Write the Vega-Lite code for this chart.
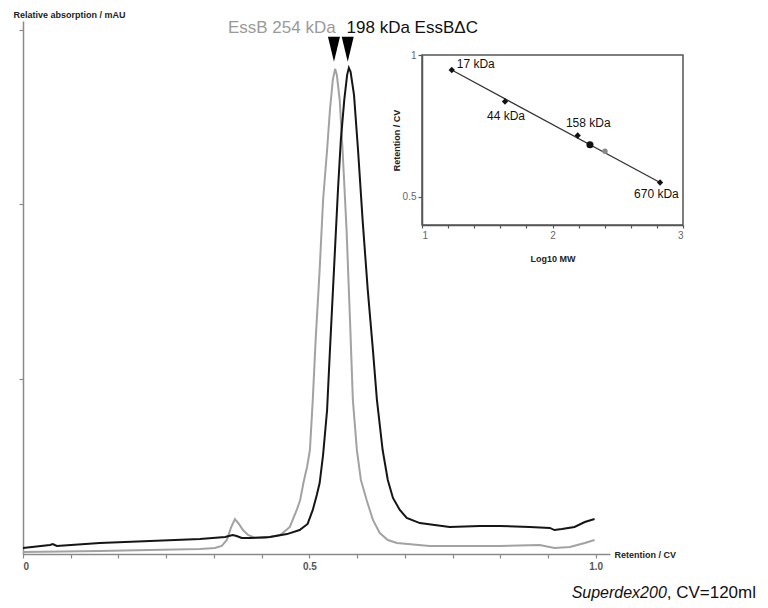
{
  "$schema": "https://vega.github.io/schema/vega-lite/v6.json",
  "width": 587,
  "height": 533,
  "autosize": "none",
  "padding": {"left": 23, "top": 21, "right": 158, "bottom": 54},
  "background": "white",
  "config": {
    "view": {"stroke": null},
    "font": "Liberation Sans",
    "axis": {"grid": false, "domainColor": "#8a8a8a", "tickColor": "#8a8a8a", "domainWidth": 1.5, "tickWidth": 1.2, "labelFont": "Liberation Sans", "titleFont": "Liberation Sans"}
  },
  "datasets": {
    "essb": [
      {"cv": 0.0, "abs": 0.011}, {"cv": 0.134, "abs": 0.017}, {"cv": 0.309, "abs": 0.029},
      {"cv": 0.335, "abs": 0.034}, {"cv": 0.347, "abs": 0.046}, {"cv": 0.356, "abs": 0.080},
      {"cv": 0.363, "abs": 0.149}, {"cv": 0.370, "abs": 0.200}, {"cv": 0.377, "abs": 0.172},
      {"cv": 0.384, "abs": 0.137}, {"cv": 0.393, "abs": 0.109}, {"cv": 0.405, "abs": 0.092},
      {"cv": 0.422, "abs": 0.092}, {"cv": 0.449, "abs": 0.109}, {"cv": 0.466, "abs": 0.155},
      {"cv": 0.478, "abs": 0.252}, {"cv": 0.484, "abs": 0.309}, {"cv": 0.490, "abs": 0.412},
      {"cv": 0.496, "abs": 0.498}, {"cv": 0.501, "abs": 0.595}, {"cv": 0.506, "abs": 0.882},
      {"cv": 0.511, "abs": 1.225}, {"cv": 0.518, "abs": 1.626}, {"cv": 0.524, "abs": 2.026},
      {"cv": 0.531, "abs": 2.313}, {"cv": 0.536, "abs": 2.542}, {"cv": 0.541, "abs": 2.713},
      {"cv": 0.545, "abs": 2.776}, {"cv": 0.548, "abs": 2.742}, {"cv": 0.553, "abs": 2.599},
      {"cv": 0.558, "abs": 2.313}, {"cv": 0.565, "abs": 1.855}, {"cv": 0.571, "abs": 1.339},
      {"cv": 0.576, "abs": 0.882}, {"cv": 0.583, "abs": 0.595}, {"cv": 0.590, "abs": 0.424},
      {"cv": 0.600, "abs": 0.309}, {"cv": 0.611, "abs": 0.195}, {"cv": 0.623, "abs": 0.120},
      {"cv": 0.637, "abs": 0.080}, {"cv": 0.653, "abs": 0.063}, {"cv": 0.710, "abs": 0.046},
      {"cv": 0.832, "abs": 0.046}, {"cv": 0.902, "abs": 0.052}, {"cv": 0.928, "abs": 0.034},
      {"cv": 0.955, "abs": 0.040}, {"cv": 0.981, "abs": 0.063}, {"cv": 0.998, "abs": 0.080}
    ],
    "essbdc": [
      {"cv": 0.0, "abs": 0.034}, {"cv": 0.047, "abs": 0.052}, {"cv": 0.052, "abs": 0.057},
      {"cv": 0.059, "abs": 0.046}, {"cv": 0.134, "abs": 0.063}, {"cv": 0.222, "abs": 0.074},
      {"cv": 0.309, "abs": 0.086}, {"cv": 0.353, "abs": 0.097}, {"cv": 0.366, "abs": 0.109},
      {"cv": 0.373, "abs": 0.103}, {"cv": 0.382, "abs": 0.092}, {"cv": 0.396, "abs": 0.092},
      {"cv": 0.431, "abs": 0.097}, {"cv": 0.461, "abs": 0.114}, {"cv": 0.483, "abs": 0.137},
      {"cv": 0.497, "abs": 0.172}, {"cv": 0.506, "abs": 0.252}, {"cv": 0.513, "abs": 0.338},
      {"cv": 0.518, "abs": 0.406}, {"cv": 0.524, "abs": 0.567}, {"cv": 0.531, "abs": 0.824},
      {"cv": 0.536, "abs": 1.168}, {"cv": 0.543, "abs": 1.626}, {"cv": 0.550, "abs": 2.084},
      {"cv": 0.555, "abs": 2.370}, {"cv": 0.561, "abs": 2.599}, {"cv": 0.566, "abs": 2.742},
      {"cv": 0.569, "abs": 2.782}, {"cv": 0.572, "abs": 2.759}, {"cv": 0.578, "abs": 2.627},
      {"cv": 0.585, "abs": 2.313}, {"cv": 0.593, "abs": 1.912}, {"cv": 0.602, "abs": 1.511},
      {"cv": 0.611, "abs": 1.168}, {"cv": 0.618, "abs": 0.882}, {"cv": 0.628, "abs": 0.595},
      {"cv": 0.637, "abs": 0.424}, {"cv": 0.646, "abs": 0.321}, {"cv": 0.658, "abs": 0.252},
      {"cv": 0.670, "abs": 0.206}, {"cv": 0.693, "abs": 0.177}, {"cv": 0.745, "abs": 0.155},
      {"cv": 0.798, "abs": 0.160}, {"cv": 0.832, "abs": 0.160}, {"cv": 0.885, "abs": 0.155},
      {"cv": 0.920, "abs": 0.149}, {"cv": 0.928, "abs": 0.137}, {"cv": 0.941, "abs": 0.143},
      {"cv": 0.963, "abs": 0.155}, {"cv": 0.981, "abs": 0.183}, {"cv": 0.998, "abs": 0.200}
    ],
    "peaks": [
      {"cv": 0.543, "abs": 2.888},
      {"cv": 0.567, "abs": 2.888}
    ],
    "mainlabels": [
      {"cv": 0.546, "abs": 2.982, "label": "EssB  254 kDa", "kind": "gray"},
      {"cv": 0.565, "abs": 2.982, "label": "198 kDa EssBΔC", "kind": "black"},
      {"cv": 0.958, "abs": -0.252, "label": "Superdex200", "kind": "italic"},
      {"cv": 1.124, "abs": -0.252, "label": ", CV=120ml", "kind": "plain"}
    ],
    "standards": [
      {"logmw": 1.228, "ret": 0.947, "label": "17 kDa"},
      {"logmw": 1.636, "ret": 0.836, "label": "44 kDa"},
      {"logmw": 2.193, "ret": 0.716, "label": "158 kDa"},
      {"logmw": 2.824, "ret": 0.550, "label": "670 kDa"}
    ],
    "stdlabels": [
      {"logmw": 1.266, "ret": 0.954, "label": "17 kDa"},
      {"logmw": 1.498, "ret": 0.771, "label": "44 kDa"},
      {"logmw": 2.103, "ret": 0.747, "label": "158 kDa"},
      {"logmw": 2.625, "ret": 0.495, "label": "670 kDa"}
    ],
    "fit": [
      {"logmw": 1.228, "ret": 0.947},
      {"logmw": 2.824, "ret": 0.550}
    ],
    "box": [
      {"x1": 1, "x2": 3, "y1": 0.4, "y2": 1}
    ]
  },
  "layer": [
    {
      "encoding": {
        "x": {"field": "cv", "type": "quantitative",
              "scale": {"domain": [0, 1.025], "nice": false, "zero": false},
              "axis": {
                "title": "Retention / CV",
                "values": [0, 0.0833, 0.1667, 0.25, 0.3333, 0.4167, 0.5, 0.5833, 0.6667, 0.75, 0.8333, 0.9167, 1.0],
                "labelExpr": "datum.value == 0 ? '0' : (datum.value == 0.5 ? '0.5' : (datum.value == 1 ? '1.0' : ''))",
                "labelFontSize": 10, "labelFontWeight": "bold", "labelColor": "#555", "labelPadding": 3,
                "tickSize": 4,
                "titleX": 591, "titleY": 0, "titleAlign": "left", "titleBaseline": "middle",
                "titleFontSize": 9, "titleFontWeight": "bold", "titleColor": "#222"
              }},
        "y": {"field": "abs", "type": "quantitative",
              "scale": {"domain": [0, 3.05], "nice": false, "zero": false},
              "axis": {
                "title": "Relative absorption / mAU",
                "values": [1, 2, 3], "labels": false, "tickSize": 4,
                "titleAngle": 0, "titleX": -10, "titleY": -4, "titleAlign": "left", "titleBaseline": "alphabetic",
                "titleFontSize": 9, "titleFontWeight": "bold", "titleColor": "#222"
              }}
      },
      "layer": [
        {"data": {"name": "essb"}, "mark": {"type": "line", "color": "#a2a2a2", "strokeWidth": 2}},
        {"data": {"name": "essbdc"}, "mark": {"type": "line", "color": "#151515", "strokeWidth": 2}},
        {"data": {"name": "peaks"}, "mark": {"type": "point", "shape": "M-0.48,-1L0.48,-1L0,1Z", "size": 625, "filled": true, "color": "#000", "opacity": 1}},
        {"data": {"name": "mainlabels"}, "transform": [{"filter": "datum.kind == 'gray'"}],
         "mark": {"type": "text", "align": "right", "baseline": "alphabetic", "fontSize": 17, "color": "#9a9a9a"},
         "encoding": {"text": {"field": "label"}}},
        {"data": {"name": "mainlabels"}, "transform": [{"filter": "datum.kind == 'black'"}],
         "mark": {"type": "text", "align": "left", "baseline": "alphabetic", "fontSize": 17, "color": "#111"},
         "encoding": {"text": {"field": "label"}}},
        {"data": {"name": "mainlabels"}, "transform": [{"filter": "datum.kind == 'italic'"}],
         "mark": {"type": "text", "align": "left", "baseline": "alphabetic", "fontSize": 16, "fontStyle": "italic", "color": "#111"},
         "encoding": {"text": {"field": "label"}}},
        {"data": {"name": "mainlabels"}, "transform": [{"filter": "datum.kind == 'plain'"}],
         "mark": {"type": "text", "align": "left", "baseline": "alphabetic", "fontSize": 17, "color": "#111"},
         "encoding": {"text": {"field": "label"}}}
      ]
    },
    {
      "encoding": {
        "x": {"field": "logmw", "type": "quantitative",
              "scale": {"domain": [1, 3], "range": [399, 660], "nice": false, "zero": false},
              "axis": {
                "title": "Log10 MW", "orient": "bottom", "offset": -329,
                "values": [1, 1.2, 1.4, 1.6, 1.8, 2, 2.2, 2.4, 2.6, 2.8, 3],
                "labelExpr": "datum.value == 1 ? '1' : (datum.value == 2 ? '2' : (datum.value == 3 ? '3' : ''))",
                "labelFontSize": 10, "labelColor": "#666", "labelPadding": 2, "tickSize": 3,
                "domainColor": "#555", "tickColor": "#555", "domainWidth": 1.5,
                "titleFontSize": 9, "titleFontWeight": "bold", "titleColor": "#222", "titlePadding": 14
              }},
        "y": {"field": "ret", "type": "quantitative",
              "scale": {"domain": [0.4, 1], "range": [204, 34], "nice": false, "zero": false},
              "axis": {
                "title": "Retention / CV", "orient": "left", "offset": -399,
                "values": [0.5, 1], "labelExpr": "datum.value == 1 ? '1' : '0.5'",
                "labelFontSize": 10, "labelColor": "#666", "labelPadding": 2, "tickSize": 4,
                "domainColor": "#555", "tickColor": "#555", "domainWidth": 1.5,
                "titleFontSize": 9, "titleFontWeight": "bold", "titleColor": "#222", "titlePadding": 1
              }}
      },
      "layer": [
        {"data": {"name": "box"}, "mark": {"type": "rect", "fill": null, "stroke": "#555", "strokeWidth": 1.5},
         "encoding": {"x": {"field": "x1", "type": "quantitative"}, "x2": {"field": "x2"}, "y": {"field": "y1", "type": "quantitative"}, "y2": {"field": "y2"}}},
        {"data": {"name": "fit"}, "mark": {"type": "line", "color": "#333", "strokeWidth": 1.3}},
        {"data": {"name": "standards"}, "mark": {"type": "point", "shape": "diamond", "filled": true, "size": 40, "color": "#111", "opacity": 1}},
        {"data": {"values": [{"logmw": 2.287, "ret": 0.683}]}, "mark": {"type": "point", "shape": "circle", "filled": true, "size": 50, "color": "#111", "opacity": 1}},
        {"data": {"values": [{"logmw": 2.402, "ret": 0.660}]}, "mark": {"type": "point", "shape": "circle", "filled": true, "size": 30, "color": "#8a8a8a", "opacity": 1}},
        {"data": {"name": "stdlabels"}, "mark": {"type": "text", "align": "left", "baseline": "alphabetic", "fontSize": 12, "color": "#111"},
         "encoding": {"text": {"field": "label"}}}
      ]
    }
  ],
  "resolve": {"scale": {"x": "independent", "y": "independent"}, "axis": {"x": "independent", "y": "independent"}}
}
